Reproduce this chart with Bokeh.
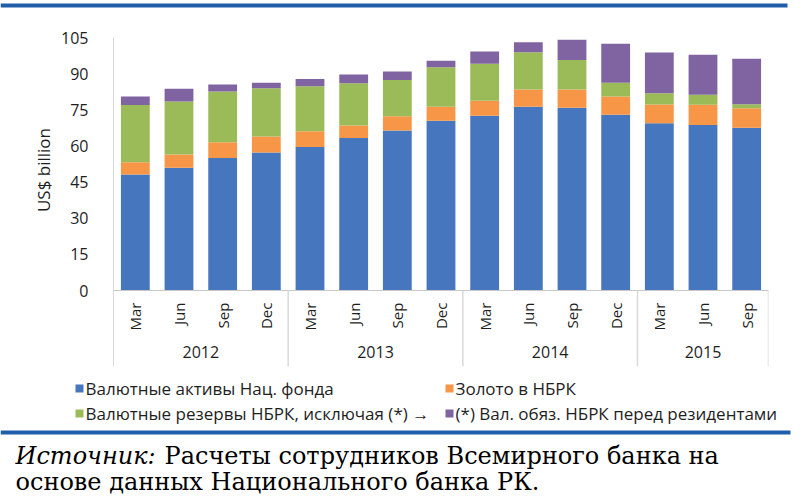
from math import pi
from bokeh.plotting import figure
from bokeh.layouts import column, row
from bokeh.models import FactorRange, Range1d, ColumnDataSource, FixedTicker
from bokeh.core.properties import value
from bokeh.embed import file_html
from bokeh.resources import INLINE

# ---------------- data ----------------
years = ["2012", "2013", "2014", "2015"]
months_2012 = ["Mar", "Jun", "Sep", "Dec"]
months_2013 = ["Mar", "Jun", "Sep", "Dec"]
months_2014 = ["Mar", "Jun", "Sep", "Dec"]
months_2015 = ["Mar", "Jun", "Sep"]
months_by_year = [months_2012, months_2013, months_2014, months_2015]

fund_assets = [48.1, 50.9, 55.0, 57.3, 59.6, 63.3, 66.4, 70.5, 72.5, 76.3, 75.8, 72.9, 69.4, 68.7, 67.5]
gold = [5.1, 5.5, 6.5, 6.6, 6.5, 5.2, 5.9, 5.8, 6.3, 7.1, 7.6, 7.6, 7.8, 8.4, 8.1]
reserves_excl = [23.8, 22.0, 21.1, 20.0, 18.7, 17.5, 15.1, 16.4, 15.3, 15.5, 12.3, 5.7, 4.7, 4.1, 1.7]
liabilities = [3.5, 5.3, 2.9, 2.3, 3.0, 3.6, 3.5, 2.7, 5.1, 4.1, 8.4, 16.2, 16.9, 16.6, 18.9]

series_labels = ["Валютные активы Нац. фонда",
                 "Золото в НБРК",
                 "Валютные резервы НБРК, исключая (*) →",
                 "(*) Вал. обяз. НБРК перед резидентами"]
y_ticks = [0, 15, 30, 45, 60, 75, 90, 105]
y_label = "US$ billion"
source_italic = "Источник:"
source_line1 = "Расчеты сотрудников Всемирного банка на"
source_line2 = "основе данных Национального банка РК."

colors = ["#4677BE", "#F79646", "#9BBB59", "#8064A2"]
rule_blue = "#1F5EA8"
axis_gray = "#D9D9D9"
text_dark = "#1E1E1E"
SANS = "Open Sans"
SERIF = "DejaVu Serif"

W, H = 810, 498
TOP_H, MAIN_H = 25, 345
YLAB_W = 58


def blank_fig(width, height):
    f = figure(width=width, height=height,
               x_range=Range1d(0, width), y_range=Range1d(height, 0),
               x_axis_location=None, y_axis_location=None,
               output_backend="svg", toolbar_location=None,
               min_border=0, outline_line_color=None,
               background_fill_color="white", border_fill_color="white")
    f.xgrid.visible = False
    f.ygrid.visible = False
    return f


# ---------------- top rule ----------------
top_fig = blank_fig(W, TOP_H)
top_fig.quad(left=[0], right=[787], top=[3], bottom=[7], fill_color=rule_blue, line_color=None)

# ---------------- y label panel ----------------
ylab_fig = blank_fig(YLAB_W, MAIN_H)
ylab_fig.text(x=[43], y=[139], text=[y_label], angle=pi / 2,
              text_align="center", text_baseline="middle",
              text_font=value(SANS), text_font_size="17px", text_color=text_dark)

# ---------------- main chart ----------------
categories = [(y, m) for y, ms in zip(years, months_by_year) for m in ms]
month_names = [m for _, m in categories]

src = ColumnDataSource(dict(cat=categories, month=month_names,
                            fund=fund_assets, gold=gold,
                            res=reserves_excl, liab=liabilities))

Y_MIN = -31.54
p = figure(width=W - YLAB_W, height=MAIN_H,
           x_range=FactorRange(factors=categories, factor_padding=0,
                               group_padding=0, range_padding=0),
           y_range=Range1d(Y_MIN, 105),
           x_axis_location=None, y_axis_location="left",
           output_backend="svg", toolbar_location=None,
           min_border_left=52, min_border_right=42,
           min_border_top=12, min_border_bottom=4,
           outline_line_color=None, background_fill_color="white",
           border_fill_color="white")
p.xgrid.grid_line_color = None
p.ygrid.grid_line_color = None

p.vbar_stack(["fund", "gold", "res", "liab"], x="cat", width=0.66,
             fill_color=colors, line_color=None, source=src)

ax = p.yaxis[0]
ax.ticker = FixedTicker(ticks=y_ticks)
ax.major_tick_line_color = None
ax.minor_tick_line_color = None
ax.axis_line_color = axis_gray
ax.major_label_standoff = 19
ax.major_label_text_font = SANS
ax.major_label_text_font_size = "16px"
ax.major_label_text_color = text_dark

first_cat = categories[0]
last_cat = categories[-1]
p.segment(x0=[first_cat + (-0.5,)], x1=[last_cat + (0.5,)], y0=0, y1=0,
          line_color="#C8C8C8", line_width=1)
bounds = [(y, ms[-1], 0.5) for y, ms in zip(years, months_by_year)]
p.segment(x0=bounds, x1=bounds, y0=0, y1=Y_MIN, line_color=axis_gray, line_width=1.5)

p.text(x="cat", y=-5, text="month", source=src, angle=pi / 2,
       text_align="right", text_baseline="middle",
       text_font=value(SANS), text_font_size="15px", text_color=text_dark)
p.text(x=years, y=[-25.7] * len(years), text=years,
       text_align="center", text_baseline="middle",
       text_font=value(SANS), text_font_size="16px", text_color=text_dark)

# ---------------- bottom: legend, rule, source ----------------
bot = blank_fig(W, H - TOP_H - MAIN_H)

leg_x = [79, 449, 79, 449]
leg_y = [18, 18, 43, 43]
bot.rect(x=leg_x, y=leg_y, width=8, height=8, fill_color=colors, line_color=None)
bot.text(x=[x + 6 for x in leg_x], y=leg_y, text=series_labels,
         text_align="left", text_baseline="middle",
         text_font=value(SANS), text_font_size="17px", text_color=text_dark)

bot.quad(left=[0], right=[790], top=[60], bottom=[64], fill_color=rule_blue, line_color=None)

bot.text(x=[15], y=[85], text=[source_italic], text_font=value(SERIF),
         text_font_style="italic", text_font_size="24px", text_color="black",
         text_baseline="alphabetic")
bot.text(x=[164], y=[85], text=[source_line1], text_font=value(SERIF),
         text_font_size="24px", text_color="black", text_baseline="alphabetic")
bot.text(x=[15], y=[111], text=[source_line2], text_font=value(SERIF),
         text_font_size="24px", text_color="black", text_baseline="alphabetic")

layout = column(top_fig, row(ylab_fig, p), bot)
open("out.html", "w").write(file_html(layout, INLINE))
